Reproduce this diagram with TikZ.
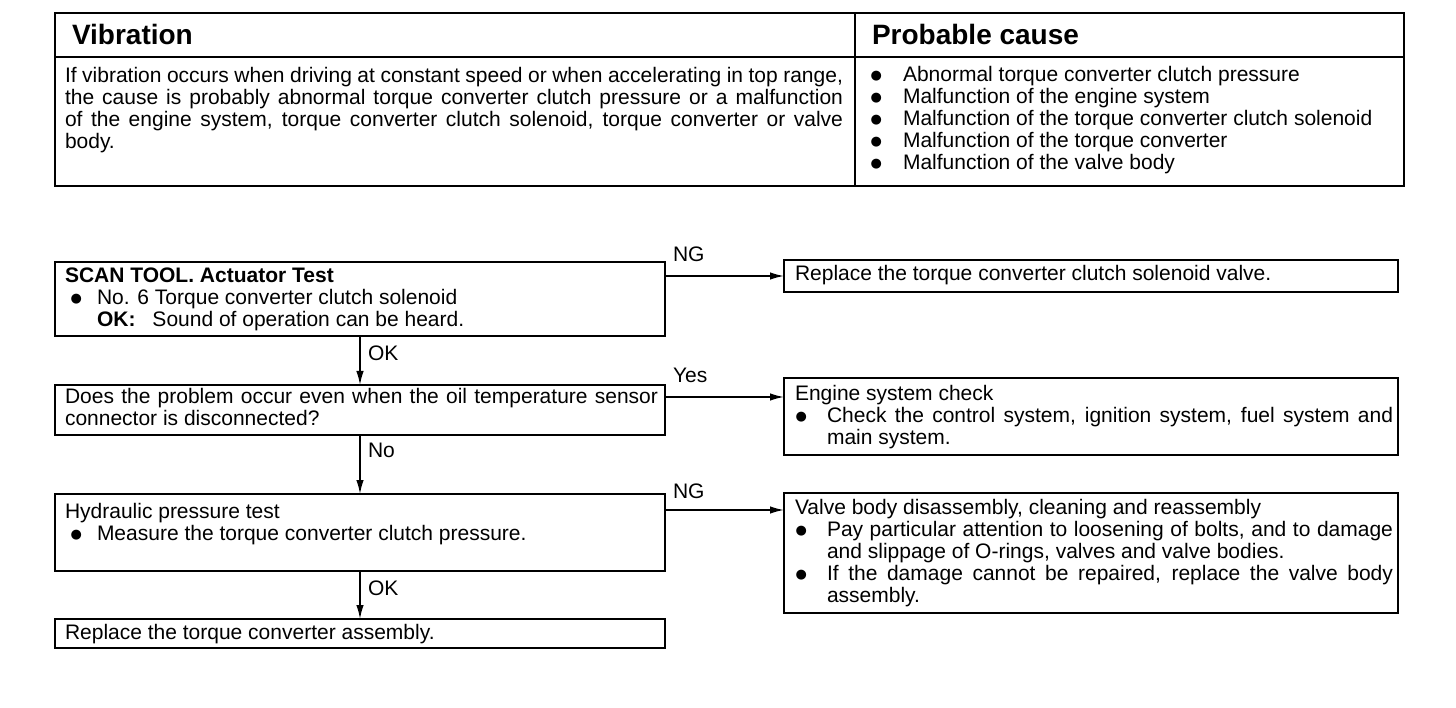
\documentclass[tikz,border=0pt]{standalone}
\usepackage{fontspec}
\setmainfont{Liberation Sans}
\newfontfamily\symfam{DejaVu Sans}
\usetikzlibrary{arrows.meta}
\newcommand\lns[1]{\vtop{\baselineskip=22pt\lineskiplimit=-100pt\lineskip=0pt\relax #1}}
\newcommand\bulletdot{\raisebox{2pt}{\symfam\fontsize{13}{13}\selectfont ●}}
\newcommand\bulbox[2]{\hbox to #1{\hskip#2\bulletdot\hfil}}
\newcommand\jl[2]{\hbox to #1{#2}}
\begin{document}
\begin{tikzpicture}[x=1pt,y=-1pt,
  every node/.style={inner sep=0pt, outer sep=0pt, font=\fontsize{21}{22}\selectfont},
  frame/.style={draw, line width=1.8pt, anchor=north west},
  tframe/.style={draw, line width=2.4pt, anchor=north west},
  txt/.style={anchor=base west},
  head/.style={anchor=base west, font=\fontsize{28}{30}\selectfont\bfseries},
  lbl/.style={anchor=base west},
  arr/.style={line width=1.5pt, -{Latex[length=14pt,width=7.5pt]}}]
\fill[white] (0,0) rectangle (1456,708);
\useasboundingbox (0,0) rectangle (1456,708);
% ---- top table ----
\node[tframe, minimum width=1349pt, minimum height=173pt] (tab) at (55,13) {};
\coordinate (hl) at (55,57);
\coordinate (cd) at (855,13);
\draw[line width=2pt] (hl) -- (hl -| tab.east);
\draw[line width=2pt] (cd) -- (cd |- tab.south);
\node[head] (h1) at (72,45) {Vibration};
\node[head] (h2) at (872,45) {Probable cause};
\node[txt] (desc) at (65,83) {\lns{%
  \jl{778pt}{If vibration occurs when driving at constant speed or when accelerating in top range,}
  \jl{778pt}{the cause is probably abnormal torque converter clutch pressure or a malfunction}
  \jl{778pt}{of the engine system, torque converter clutch solenoid, torque converter or valve}
  \hbox{body.}}};
\node[txt] (causes) at (868,82) {\lns{%
  \hbox{\bulbox{35pt}{2.5pt}Abnormal torque converter clutch pressure}
  \hbox{\bulbox{35pt}{2.5pt}Malfunction of the engine system}
  \hbox{\bulbox{35pt}{2.5pt}Malfunction of the torque converter clutch solenoid}
  \hbox{\bulbox{35pt}{2.5pt}Malfunction of the torque converter}
  \hbox{\bulbox{35pt}{2.5pt}Malfunction of the valve body}}};
% ---- flow boxes ----
\node[frame, minimum width=610pt, minimum height=74pt] (b1) at (55,262) {};
\node[frame, minimum width=610pt, minimum height=50pt] (b2) at (55,385) {};
\node[frame, minimum width=610pt, minimum height=77pt] (b3) at (55,494) {};
\node[frame, minimum width=610pt, minimum height=29pt] (b4) at (55,619) {};
\node[frame, minimum width=614pt, minimum height=32pt] (r1) at (784,260) {};
\node[frame, minimum width=614pt, minimum height=77pt] (r2) at (784,378) {};
\node[frame, minimum width=614pt, minimum height=120pt] (r3) at (784,493) {};
% ---- texts ----
\node[txt] (t1) at (65,283) {\lns{%
  \hbox{\bfseries SCAN TOOL. Actuator Test}
  \hbox{\bulbox{32pt}{5.5pt}No. 6 Torque converter clutch solenoid}
  \hbox{\hskip32pt\textbf{OK:}\hskip17pt Sound of operation can be heard.}}};
\node[txt] (t2) at (65,403) {\lns{%
  \jl{593pt}{Does the problem occur even when the oil temperature sensor}
  \hbox{connector is disconnected?}}};
\node[txt] (t3) at (65,518) {\lns{%
  \hbox{Hydraulic pressure test}
  \hbox{\bulbox{32pt}{5.5pt}Measure the torque converter clutch pressure.}}};
\node[txt] (t4) at (65,639) {Replace the torque converter assembly.};
\node[txt] (s1) at (795,281) {Replace the torque converter clutch solenoid valve.};
\node[txt] (s2) at (795,400) {\lns{%
  \hbox{Engine system check}
  \hbox{\bulbox{32pt}{0.5pt}\jl{566pt}{Check the control system, ignition system, fuel system and}}
  \hbox{\hskip32pt main system.}}};
\node[txt] (s3) at (795,514) {\lns{%
  \hbox{Valve body disassembly, cleaning and reassembly}
  \hbox{\bulbox{32pt}{0.5pt}\jl{566pt}{Pay particular attention to loosening of bolts, and to damage}}
  \hbox{\hskip32pt and slippage of O-rings, valves and valve bodies.}
  \hbox{\bulbox{32pt}{0.5pt}\jl{566pt}{If the damage cannot be repaired, replace the valve body}}
  \hbox{\hskip32pt assembly.}}};
% ---- connectors ----
\draw[arr] (r1.west -| b1.east) -- (r1.west);
\draw[arr] ([yshift=-12pt]b2.north east) coordinate (a2) -- (a2 -| r2.west);
\draw[arr] ([yshift=-16pt]b3.north east) coordinate (a3) -- (a3 -| r3.west);
\draw[arr] (b1.south) -- (b2.north);
\draw[arr] (b2.south) -- (b3.north);
\draw[arr] (b3.south) -- (b4.north);
% ---- labels ----
\node[lbl] (ng1) at (673,262) {NG};
\node[lbl] (yes) at (673,383) {Yes};
\node[lbl] (ng2) at (673,498) {NG};
\node[lbl] (ok1) at (368,360) {OK};
\node[lbl] (no) at (368,457) {No};
\node[lbl] (ok2) at (368,595) {OK};
\end{tikzpicture}
\end{document}
